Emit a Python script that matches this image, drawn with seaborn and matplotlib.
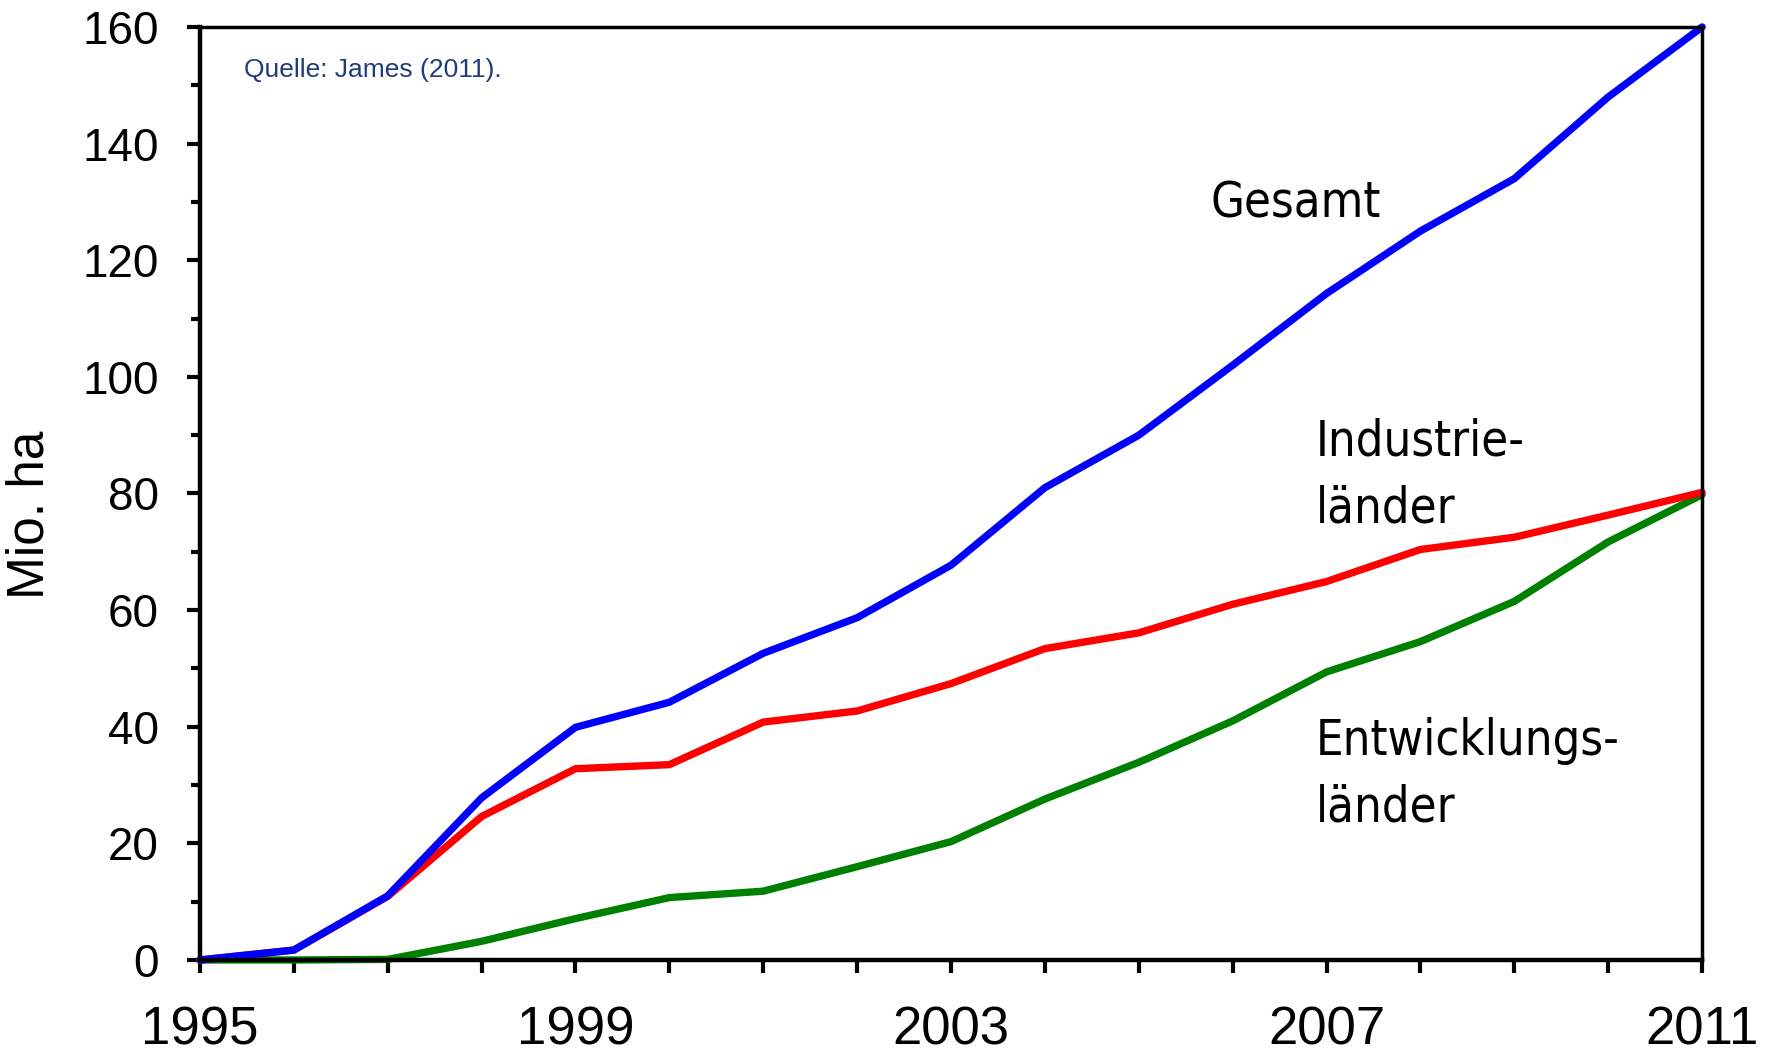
import numpy as np
import pandas as pd
import matplotlib
matplotlib.use("Agg")
import matplotlib.pyplot as plt
from matplotlib.ticker import MultipleLocator, FixedLocator
import seaborn as sns

# Anbauflächen gentechnisch veränderter Pflanzen, Mio. ha
years = list(range(1995, 2012))
gesamt = [0.0, 1.7, 11.0, 27.8, 39.9, 44.2, 52.6, 58.7, 67.7, 81.0, 90.0,
          102.0, 114.3, 125.0, 134.0, 148.0, 160.0]
industrie = [0.0, 1.7, 10.9, 24.6, 32.8, 33.5, 40.8, 42.7, 47.4, 53.4, 56.1,
             61.0, 64.9, 70.4, 72.5, 76.3, 80.2]
entwicklung = [0.0, 0.0, 0.1, 3.2, 7.1, 10.7, 11.8, 16.0, 20.3, 27.6, 33.9,
               41.0, 49.4, 54.6, 61.5, 71.7, 79.8]

series_names = ["Gesamt", "Industrieländer", "Entwicklungsländer"]
series_colors = ["#0000FF", "#FF0000", "#008000"]
x_tick_labels = ["1995", "1999", "2003", "2007", "2011"]

df = pd.DataFrame({
    "Jahr": years * 3,
    "Fläche": gesamt + industrie + entwicklung,
    "Gruppe": [series_names[0]] * len(years) + [series_names[1]] * len(years)
              + [series_names[2]] * len(years),
})

sns.set_style("ticks")
plt.rcParams["font.family"] = ["Liberation Sans", "DejaVu Sans"]
plt.rcParams["text.color"] = "black"
plt.rcParams["axes.labelcolor"] = "black"
plt.rcParams["xtick.color"] = "black"
plt.rcParams["ytick.color"] = "black"

fig = plt.figure(figsize=(17.71, 10.59), dpi=100)
ax = fig.add_axes([0.1129, 0.0935, 0.8482, 0.881])

sns.lineplot(data=df, x="Jahr", y="Fläche", hue="Gruppe",
             hue_order=[series_names[2], series_names[1], series_names[0]],
             palette=dict(zip(series_names, series_colors)),
             legend=False, ax=ax, clip_on=False)
for line in ax.lines:
    line.set_linewidth(5.3)
    line.set_solid_joinstyle("miter")

ax.set_xlim(1995, 2011)
ax.set_ylim(0, 160)

# x axis: labelled every four years, ticks every year
ax.xaxis.set_major_locator(FixedLocator([int(t) for t in x_tick_labels]))
ax.set_xticklabels(x_tick_labels)
ax.xaxis.set_minor_locator(MultipleLocator(1))
ax.tick_params(axis="x", which="both", direction="out", length=9.5,
               width=3.0, colors="black", labelsize=38, pad=23)

# y axis: labelled every 20, minor ticks every 10
ax.yaxis.set_major_locator(MultipleLocator(20))
ax.yaxis.set_minor_locator(MultipleLocator(10))
ax.tick_params(axis="y", which="major", direction="out", length=9.5,
               width=3.0, colors="black", labelsize=33, pad=20)
ax.tick_params(axis="y", which="minor", direction="out", length=6.2,
               width=3.0, colors="black")

ax.set_xlabel("")
ax.set_ylabel("Mio. ha", fontsize=37, color="black")
ax.yaxis.set_label_coords(-0.0965, 0.477)

for side in ["left", "bottom"]:
    ax.spines[side].set_linewidth(3.2)
    ax.spines[side].set_color("black")
for side in ["top", "right"]:
    ax.spines[side].set_visible(True)
    ax.spines[side].set_linewidth(2.5)
    ax.spines[side].set_color("black")

label_font = dict(family="DejaVu Sans", stretch="condensed", fontsize=35,
                  color="black", ha="left", va="baseline", linespacing=1.5)
ax.text(2005.76, 127.4, "Gesamt", **label_font)
ax.text(2006.89, 75.1, "Industrie-\nländer", **label_font)
ax.text(2006.89, 23.7, "Entwicklungs-\nländer", **label_font)

ax.text(1995.47, 151.4, "Quelle: James (2011).", fontsize=19,
        color="#1f3d7a", ha="left", va="baseline")

fig.savefig("out.png", dpi=100)
